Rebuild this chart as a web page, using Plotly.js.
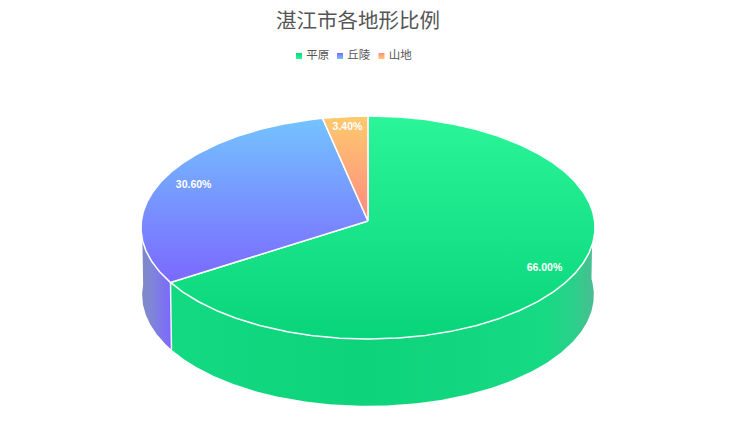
<!DOCTYPE html>
<html>
<head>
<meta charset="utf-8">
<script src="https://cdn.plot.ly/plotly-3.0.1.min.js"></script>
<style>html,body{margin:0;padding:0;background:#fff}#c{width:750px;height:441px}</style>
</head>
<body>
<div id="c"></div>
<script>
var categories = ['平原', '丘陵', '山地'];
var shares = [66.0, 30.6, 3.4];
var chartTitle = '湛江市各地形比例';

var topTopColors = ['#2af598', '#74c3ff', '#fdca6e'];
var topBottomColors = ['#08d47a', '#7b68ff', '#ff8a80'];
var labelRadii = [0.867, 0.85, 0.895];
var legendX = [299, 340, 381.5];

// Pixel-space projection of the tilted disc
var W = 750, H = 441, CX = 368, CY = 221, RX = 226.6, RY = 111.1, P = 0.0583;
var BOTTOM_CY = 288.5, BOTTOM_S = 0.995;

function proj(r, deg, cy, s) {
  var a = deg * Math.PI / 180, u = r * Math.sin(a), v = -r * Math.cos(a), d = 1 - P * v;
  return [CX + s * RX * u / d, cy + s * RY * v / d];
}
function arc(a0, a1, cy, s) {
  var pts = [], n = Math.max(2, Math.ceil(Math.abs(a1 - a0) * 2));
  for (var i = 0; i <= n; i++) pts.push(proj(1, a0 + (a1 - a0) * i / n, cy, s));
  return pts;
}
function xs(p) { return p.map(function (q) { return q[0]; }); }
function ys(p) { return p.map(function (q) { return q[1]; }); }

var traces = [];
var angles = [0];
shares.forEach(function (v, i) { angles.push(angles[i] + v / 100 * 360); });

// Side walls
function wall(a0, a1, stops) {
  var pts = arc(a0, a1, CY, 1).concat(arc(a1, a0, BOTTOM_CY, BOTTOM_S));
  pts.push(pts[0]);
  traces.push({
    x: xs(pts), y: ys(pts), mode: 'lines', fill: 'toself', hoverinfo: 'skip', showlegend: false,
    line: { color: 'rgba(0,0,0,0)', width: 0 },
    fillcolor: stops[0][1],
    fillgradient: { type: 'horizontal', colorscale: stops }
  });
}
wall(85, angles[1], [[0, '#13d982'], [0.45, '#0dd37a'], [0.88, '#16da84'], [0.95, '#2bd08a'], [1, '#4cbc92']]);
wall(angles[1], 272, [[0, '#7d8cc0'], [0.35, '#7f85d8'], [1, '#7b68ff']]);

// Divider on the wall
var d0 = proj(1, angles[1], CY, 1), d1 = proj(1, angles[1], BOTTOM_CY, BOTTOM_S);
traces.push({ x: [d0[0], d1[0]], y: [d0[1], d1[1]], mode: 'lines', hoverinfo: 'skip', showlegend: false,
  line: { color: '#f2f2ff', width: 1.5 } });

// Top surfaces
shares.forEach(function (v, i) {
  var pts = [[CX, CY]].concat(arc(angles[i], angles[i + 1], CY, 1));
  pts.push([CX, CY]);
  traces.push({
    x: xs(pts), y: ys(pts), mode: 'lines', fill: 'toself', name: categories[i], hoverinfo: 'skip', showlegend: false,
    line: { color: '#ffffff', width: 1.5 },
    fillcolor: topTopColors[i],
    fillgradient: { type: 'vertical', colorscale: [[0, topBottomColors[i]], [1, topTopColors[i]]] }
  });
});

// Value labels
var lp = shares.map(function (v, i) { return proj(labelRadii[i], (angles[i] + angles[i + 1]) / 2, CY, 1); });
traces.push({
  x: xs(lp), y: ys(lp), mode: 'text', hoverinfo: 'skip', showlegend: false,
  text: shares.map(function (v) { return '<b>' + v.toFixed(2) + '%</b>'; }),
  textposition: 'middle center',
  textfont: { family: '"Liberation Sans", Arial, sans-serif', size: 10.5, color: '#ffffff' }
});

// Legend
categories.forEach(function (c, i) {
  traces.push({
    x: [legendX[i]], y: [56], mode: 'markers+text', hoverinfo: 'skip', showlegend: false,
    marker: { symbol: 'square', size: 6, color: topBottomColors[i], gradient: { type: 'vertical', color: topTopColors[i] } },
    text: [' ' + c], textposition: 'middle right', cliponaxis: false,
    textfont: { family: '"Noto Sans CJK SC", sans-serif', size: 11.5, color: '#555555' }
  });
});

Plotly.newPlot('c', traces, {
  width: W, height: H,
  margin: { l: 0, r: 0, t: 0, b: 0 },
  paper_bgcolor: '#ffffff', plot_bgcolor: '#ffffff',
  showlegend: false,
  title: { text: chartTitle, x: 358 / W, xanchor: 'center', y: 1 - 21 / H, yanchor: 'middle',
    font: { family: '"Noto Sans CJK SC", sans-serif', size: 20.5, color: '#555555' } },
  xaxis: { range: [0, W], visible: false, fixedrange: true },
  yaxis: { range: [H, 0], visible: false, fixedrange: true }
}, { staticPlot: true, displayModeBar: false });
</script>
</body>
</html>
